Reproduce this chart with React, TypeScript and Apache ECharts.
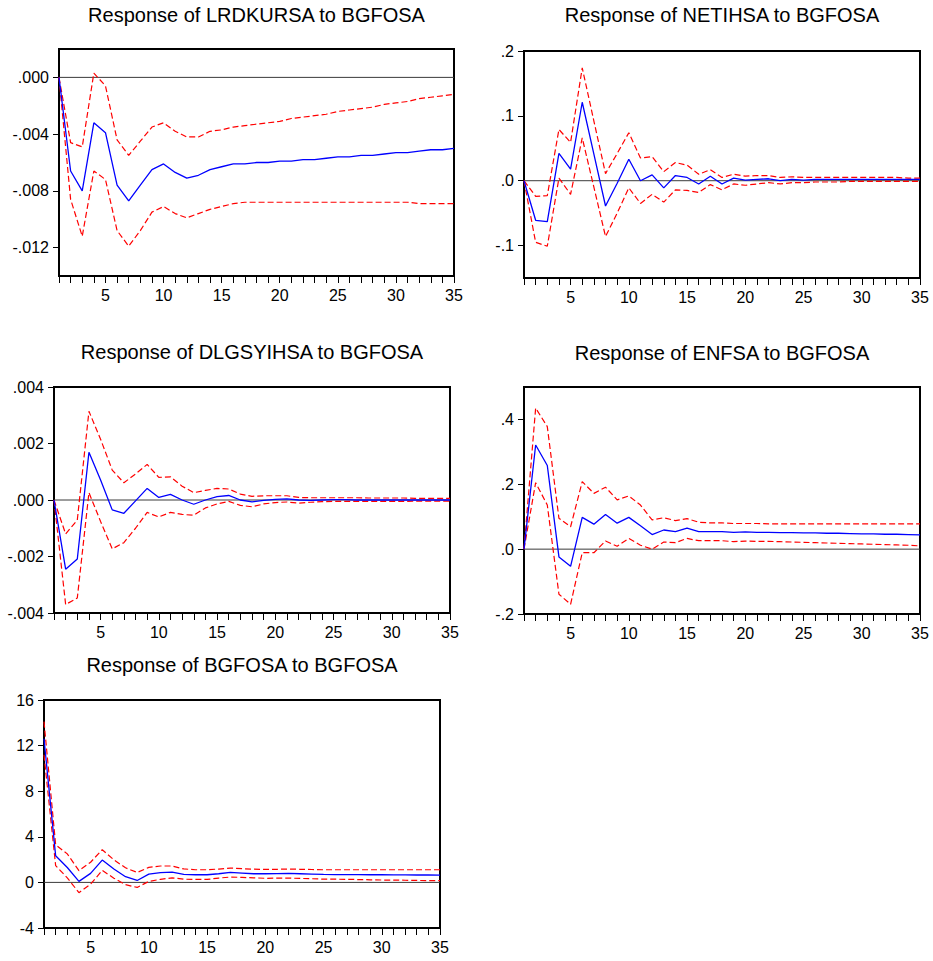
import React, { useEffect, useRef } from "react";
import * as echarts from "echarts";

// ---------- DATA ----------
const periods = [1, 2, 3, 4, 5, 6, 7, 8, 9, 10, 11, 12, 13, 14, 15, 16, 17, 18, 19, 20, 21, 22, 23, 24, 25, 26, 27, 28, 29, 30, 31, 32, 33, 34, 35];
const xLabelValues = [5, 10, 15, 20, 25, 30, 35];

const titles = [
  "Response of LRDKURSA to BGFOSA",
  "Response of NETIHSA to BGFOSA",
  "Response of DLGSYIHSA to BGFOSA",
  "Response of ENFSA to BGFOSA",
  "Response of BGFOSA to BGFOSA",
];

// Panel 1: LRDKURSA
const resp1 = [0, -0.0066, -0.0080, -0.0032, -0.0039, -0.0076, -0.0087, -0.0076, -0.0065, -0.0061, -0.0067, -0.0071, -0.0069, -0.0065, -0.0063, -0.0061, -0.0061, -0.0060, -0.0060, -0.0059, -0.0059, -0.0058, -0.0058, -0.0057, -0.0056, -0.0056, -0.0055, -0.0055, -0.0054, -0.0053, -0.0053, -0.0052, -0.0051, -0.0051, -0.0050];
const upper1 = [0, -0.0046, -0.0049, 0.0003, -0.0006, -0.0044, -0.0055, -0.0045, -0.0035, -0.0032, -0.0038, -0.0042, -0.0042, -0.0038, -0.0037, -0.0035, -0.0034, -0.0033, -0.0032, -0.0031, -0.0029, -0.0028, -0.0027, -0.0026, -0.0024, -0.0023, -0.0022, -0.0021, -0.0019, -0.0018, -0.0017, -0.0015, -0.0014, -0.0013, -0.0012];
const lower1 = [0, -0.0086, -0.0112, -0.0066, -0.0072, -0.0108, -0.0119, -0.0108, -0.0095, -0.0091, -0.0096, -0.0099, -0.0096, -0.0093, -0.0091, -0.0089, -0.0088, -0.0088, -0.0088, -0.0088, -0.0088, -0.0088, -0.0088, -0.0088, -0.0088, -0.0088, -0.0088, -0.0088, -0.0088, -0.0088, -0.0088, -0.0089, -0.0089, -0.0089, -0.0089];
const yTicks1 = [0, -0.004, -0.008, -0.012];
const yLabels1 = [".000", "-.004", "-.008", "-.012"];

// Panel 2: NETIHSA
const resp2 = [0, -0.061, -0.063, 0.042, 0.018, 0.121, 0.041, -0.039, -0.004, 0.033, 0.000, 0.009, -0.011, 0.008, 0.005, -0.005, 0.007, -0.005, 0.004, 0.001, 0.002, 0.003, 0.000, 0.002, 0.001, 0.002, 0.002, 0.002, 0.002, 0.002, 0.002, 0.002, 0.002, 0.002, 0.002];
const upper2 = [0, -0.024, -0.023, 0.079, 0.059, 0.174, 0.092, 0.011, 0.042, 0.074, 0.035, 0.037, 0.014, 0.028, 0.024, 0.010, 0.017, 0.005, 0.010, 0.007, 0.008, 0.008, 0.005, 0.006, 0.005, 0.005, 0.005, 0.005, 0.005, 0.005, 0.005, 0.005, 0.005, 0.004, 0.004];
const lower2 = [0, -0.095, -0.101, 0.004, -0.021, 0.066, -0.010, -0.086, -0.050, -0.011, -0.035, -0.021, -0.033, -0.014, -0.015, -0.018, -0.006, -0.014, -0.005, -0.007, -0.005, -0.003, -0.005, -0.003, -0.003, -0.002, -0.002, -0.002, -0.001, -0.001, -0.001, -0.001, -0.001, -0.001, -0.001];
const yTicks2 = [0.2, 0.1, 0, -0.1];
const yLabels2 = [".2", ".1", ".0", "-.1"];

// Panel 3: DLGSYIHSA
const resp3 = [0, -0.00245, -0.00209, 0.00169, 0.00071, -0.00035, -0.00047, -0.00003, 0.00041, 0.00009, 0.00020, 0.00000, -0.00015, 0.00000, 0.00012, 0.00016, 0.00000, -0.00007, -0.00001, 0.00002, 0.00004, 0.00000, -0.00001, 0.00000, 0.00001, 0.00001, 0.00000, 0.00000, 0.00000, 0.00000, 0.00000, 0.00000, 0.00000, 0.00000, 0.00000];
const upper3 = [0, -0.00120, -0.00071, 0.00314, 0.00215, 0.00106, 0.00061, 0.00092, 0.00126, 0.00080, 0.00082, 0.00049, 0.00026, 0.00034, 0.00041, 0.00039, 0.00021, 0.00013, 0.00015, 0.00015, 0.00015, 0.00009, 0.00008, 0.00008, 0.00008, 0.00008, 0.00008, 0.00007, 0.00007, 0.00007, 0.00007, 0.00006, 0.00006, 0.00006, 0.00006];
const lower3 = [0, -0.00370, -0.00347, 0.00026, -0.00076, -0.00173, -0.00151, -0.00100, -0.00044, -0.00060, -0.00044, -0.00051, -0.00054, -0.00028, -0.00014, -0.00005, -0.00019, -0.00024, -0.00014, -0.00009, -0.00007, -0.00011, -0.00008, -0.00006, -0.00005, -0.00005, -0.00005, -0.00005, -0.00005, -0.00005, -0.00005, -0.00004, -0.00004, -0.00004, -0.00004];
const yTicks3 = [0.004, 0.002, 0, -0.002, -0.004];
const yLabels3 = [".004", ".002", ".000", "-.002", "-.004"];

// Panel 4: ENFSA
const resp4 = [0, 0.321, 0.258, -0.024, -0.053, 0.098, 0.077, 0.107, 0.080, 0.098, 0.072, 0.045, 0.059, 0.054, 0.065, 0.054, 0.054, 0.054, 0.052, 0.053, 0.052, 0.052, 0.051, 0.051, 0.050, 0.050, 0.049, 0.049, 0.048, 0.047, 0.047, 0.046, 0.046, 0.045, 0.044];
const upper4 = [0, 0.435, 0.378, 0.095, 0.069, 0.208, 0.172, 0.191, 0.152, 0.164, 0.136, 0.090, 0.097, 0.088, 0.094, 0.083, 0.081, 0.081, 0.079, 0.079, 0.079, 0.078, 0.078, 0.078, 0.078, 0.078, 0.078, 0.078, 0.078, 0.078, 0.078, 0.078, 0.078, 0.078, 0.078];
const lower4 = [0, 0.205, 0.136, -0.139, -0.170, -0.011, -0.011, 0.025, 0.009, 0.033, 0.012, 0.000, 0.022, 0.020, 0.033, 0.026, 0.026, 0.026, 0.023, 0.025, 0.024, 0.024, 0.023, 0.022, 0.021, 0.020, 0.019, 0.018, 0.017, 0.016, 0.015, 0.014, 0.013, 0.012, 0.010];
const yTicks4 = [0.4, 0.2, 0, -0.2];
const yLabels4 = [".4", ".2", ".0", "-.2"];

// Panel 5: BGFOSA
const resp5 = [12.6, 2.34, 1.31, 0.09, 0.79, 1.96, 1.17, 0.50, 0.17, 0.72, 0.85, 0.90, 0.70, 0.67, 0.67, 0.76, 0.88, 0.82, 0.76, 0.76, 0.77, 0.79, 0.76, 0.73, 0.70, 0.69, 0.69, 0.68, 0.67, 0.67, 0.66, 0.66, 0.65, 0.65, 0.64];
const upper5 = [14.1, 3.30, 2.50, 1.03, 1.77, 2.87, 1.98, 1.28, 0.87, 1.32, 1.44, 1.44, 1.18, 1.11, 1.11, 1.17, 1.26, 1.20, 1.16, 1.14, 1.15, 1.17, 1.15, 1.13, 1.11, 1.11, 1.11, 1.11, 1.11, 1.11, 1.11, 1.11, 1.11, 1.11, 1.11];
const lower5 = [11.2, 1.47, 0.40, -0.90, -0.15, 1.05, 0.37, -0.20, -0.44, 0.09, 0.27, 0.40, 0.28, 0.26, 0.26, 0.38, 0.47, 0.44, 0.40, 0.36, 0.37, 0.38, 0.35, 0.32, 0.29, 0.28, 0.27, 0.25, 0.23, 0.21, 0.20, 0.19, 0.17, 0.16, 0.15];
const yTicks5 = [16, 12, 8, 4, 0, -4];
const yLabels5 = ["16", "12", "8", "4", "0", "-4"];

// ---------- LAYOUT / STYLE ----------
const panels = [
  { resp: resp1, up: upper1, lo: lower1, ticks: yTicks1, labels: yLabels1, min: -0.014, max: 0.002, grid: { left: 59, top: 49, width: 395, height: 227 }, titleY: 15 },
  { resp: resp2, up: upper2, lo: lower2, ticks: yTicks2, labels: yLabels2, min: -0.15, max: 0.2, grid: { left: 524, top: 51, width: 396, height: 227 }, titleY: 15 },
  { resp: resp3, up: upper3, lo: lower3, ticks: yTicks3, labels: yLabels3, min: -0.004, max: 0.004, grid: { left: 54, top: 387, width: 396, height: 226 }, titleY: 352 },
  { resp: resp4, up: upper4, lo: lower4, ticks: yTicks4, labels: yLabels4, min: -0.2, max: 0.5, grid: { left: 524, top: 387, width: 396, height: 227 }, titleY: 353 },
  { resp: resp5, up: upper5, lo: lower5, ticks: yTicks5, labels: yLabels5, min: -4, max: 16, grid: { left: 44, top: 700, width: 396, height: 228 }, titleY: 665 },
];

const FONT = '"Liberation Sans", Arial, sans-serif';

export default function App() {
  const ref = useRef<HTMLDivElement>(null);

  useEffect(() => {
    if (!ref.current) return;
    const chart = echarts.init(ref.current, undefined, { renderer: "svg" });

    const grid = panels.map((p) => ({
      left: p.grid.left,
      top: p.grid.top,
      width: p.grid.width,
      height: p.grid.height,
      show: true,
      borderColor: "#000",
      borderWidth: 2,
      backgroundColor: "transparent",
      containLabel: false,
    }));

    const xAxis = panels.map((_, i) => ({
      type: "value",
      gridIndex: i,
      min: 1,
      max: 35,
      interval: 1,
      axisLine: { show: true, onZero: false, lineStyle: { color: "#000", width: 2 } },
      axisTick: { show: true, inside: false, length: 7, lineStyle: { color: "#000", width: 1 } },
      axisLabel: {
        show: true,
        margin: 11,
        color: "#000",
        fontSize: 16,
        fontFamily: FONT,
        showMinLabel: true,
        showMaxLabel: true,
        formatter: (v: number) => (xLabelValues.indexOf(Math.round(v)) >= 0 ? String(Math.round(v)) : ""),
      },
      splitLine: { show: false },
    }));

    const yAxis = panels.map((p, i) => ({
      type: "value",
      gridIndex: i,
      min: p.min,
      max: p.max,
      axisLine: { show: true, onZero: false, lineStyle: { color: "#000", width: 2 } },
      axisTick: { show: true, inside: false, length: 6, customValues: p.ticks, lineStyle: { color: "#000", width: 1 } },
      axisLabel: {
        show: true,
        margin: 10,
        color: "#000",
        fontSize: 16,
        fontFamily: FONT,
        customValues: p.ticks,
        formatter: (v: number) => {
          const k = p.ticks.findIndex((t) => Math.abs(t - v) < 1e-9);
          return k >= 0 ? p.labels[k] : "";
        },
      },
      splitLine: { show: false },
    }));

    const series: any[] = [];
    panels.forEach((p, i) => {
      series.push({
        type: "line",
        xAxisIndex: i,
        yAxisIndex: i,
        data: [[periods[0], 0], [periods[periods.length - 1], 0]],
        symbol: "none",
        lineStyle: { color: "#3a3a3a", width: 1 },
        z: 1,
        silent: true,
      });
      [p.up, p.lo].forEach((arr) => {
        series.push({
          type: "line",
          xAxisIndex: i,
          yAxisIndex: i,
          data: periods.map((x, k) => [x, arr[k]]),
          symbol: "none",
          lineStyle: { color: "#ff0000", width: 1.2, type: [6, 3] },
          z: 2,
          silent: true,
        });
      });
      series.push({
        type: "line",
        xAxisIndex: i,
        yAxisIndex: i,
        data: periods.map((x, k) => [x, p.resp[k]]),
        symbol: "none",
        lineStyle: { color: "#0000ff", width: 1.3 },
        z: 3,
        silent: true,
      });
    });

    const graphic = panels.map((p, i) => ({
      type: "text",
      x: p.grid.left + p.grid.width / 2,
      y: p.titleY,
      style: {
        text: titles[i],
        fill: "#000",
        font: `20px ${FONT}`,
        textAlign: "center",
        textVerticalAlign: "middle",
      },
      silent: true,
    }));

    chart.setOption({
      animation: false,
      backgroundColor: "#fff",
      grid,
      xAxis,
      yAxis,
      series,
      graphic,
    });

    return () => {
      chart.dispose();
    };
  }, []);

  return (
    <div
      ref={ref}
      style={{ position: "absolute", left: 0, top: 0, width: 933, height: 961, background: "#fff" }}
    />
  );
}
